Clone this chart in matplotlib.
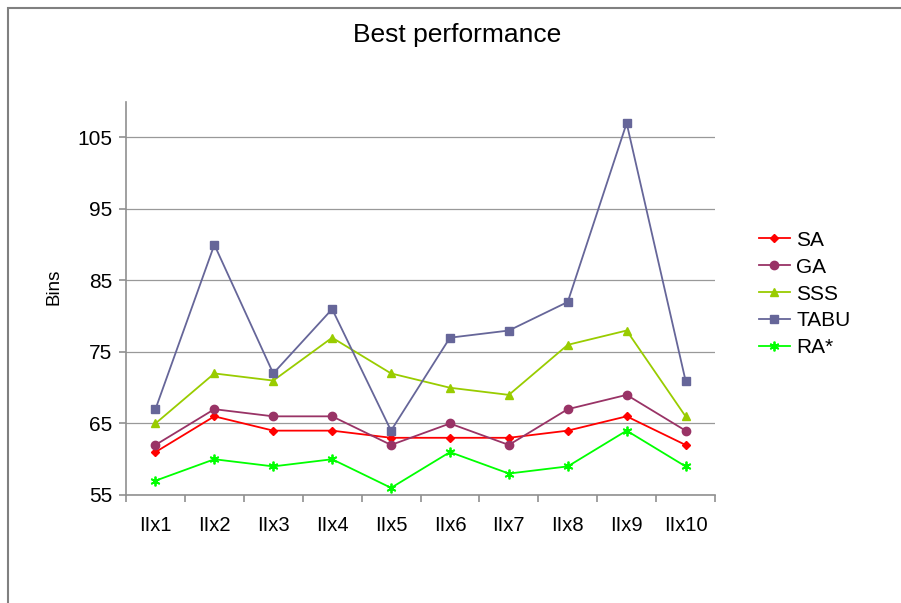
import matplotlib
matplotlib.use("Agg")
import matplotlib.pyplot as plt
from matplotlib.patches import Rectangle
import numpy as np

plt.rcParams["font.family"] = ["Liberation Sans", "DejaVu Sans"]

categories = ["IIx1", "IIx2", "IIx3", "IIx4", "IIx5", "IIx6", "IIx7", "IIx8", "IIx9", "IIx10"]
sa = [61, 66, 64, 64, 63, 63, 63, 64, 66, 62]
ga = [62, 67, 66, 66, 62, 65, 62, 67, 69, 64]
sss = [65, 72, 71, 77, 72, 70, 69, 76, 78, 66]
tabu = [67, 90, 72, 81, 64, 77, 78, 82, 107, 71]
ra = [57, 60, 59, 60, 56, 61, 58, 59, 64, 59]

fig = plt.figure(figsize=(9.01, 6.03), dpi=100)
ax = fig.add_axes([126 / 901, 1 - 495 / 603, (715 - 126) / 901, (495 - 101.7) / 603])

x = np.arange(len(categories))
ax.plot(x, sa, color="#FF0000", marker="D", markersize=4, lw=1.3, label="SA")
ax.plot(x, ga, color="#993366", marker="o", markersize=6, lw=1.3, label="GA")
ax.plot(x, sss, color="#99CC00", marker="^", markersize=6, lw=1.3, label="SSS")
ax.plot(x, tabu, color="#666699", marker="s", markersize=6, lw=1.3, label="TABU")
ax.plot(x, ra, color="#00FF00", marker=(6, 2, 0), markersize=7, mew=1.3, lw=1.3, label="RA*")

ax.set_xlim(-0.5, len(categories) - 0.5)
ax.set_ylim(55, 110)
ax.set_yticks([55, 65, 75, 85, 95, 105])
ax.set_xticks(x)
ax.set_xticklabels(categories)
ax.set_xticks(np.arange(-0.5, len(categories)), minor=True)
ax.tick_params(axis="x", which="major", length=0, pad=15, labelsize=14.5)
ax.tick_params(axis="x", which="minor", length=5, color="#909090", width=1.2)
ax.tick_params(axis="y", length=5, color="#909090", width=1.2, labelsize=15, pad=5)
ax.yaxis.grid(True, color="#999999", lw=0.9)
ax.set_axisbelow(True)
for s in ["top", "right"]:
    ax.spines[s].set_visible(False)
for s in ["left", "bottom"]:
    ax.spines[s].set_color("#909090")
    ax.spines[s].set_linewidth(1.2)

ax.set_ylabel("Bins", fontsize=13.5)
ax.yaxis.set_label_coords((62 - 126) / 589, (495 - 287) / 393.3)
fig.text(457 / 901, 1 - 35 / 603, "Best performance", ha="center", va="center", fontsize=19)

ax.legend(loc="center left", bbox_to_anchor=(740 / 901, 1 - 294 / 603),
          bbox_transform=fig.transFigure, frameon=False, fontsize=15,
          handlelength=1.5, labelspacing=0.38, handletextpad=0.3)

fig.patches.append(Rectangle((8 / 901, -0.05), 1.1, 1 - 8 / 603 + 0.05,
                             transform=fig.transFigure, fill=False,
                             edgecolor="#808080", lw=1.5))

fig.savefig("out.png", dpi=100)
